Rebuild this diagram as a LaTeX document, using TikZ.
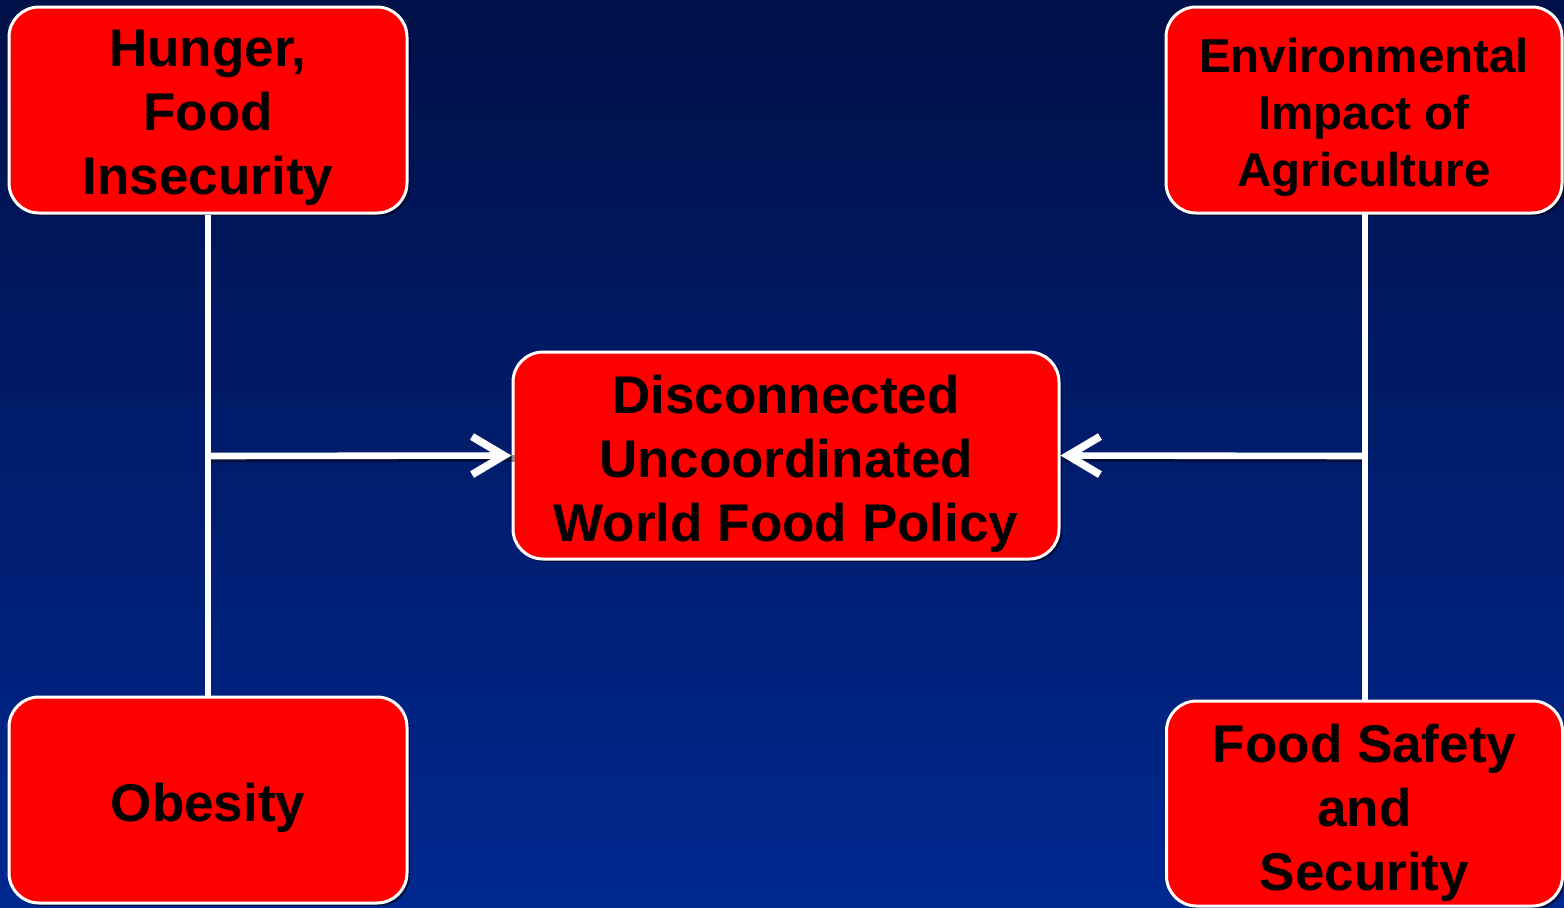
\documentclass[tikz,border=0pt]{standalone}
\usepackage{fontspec}
\setmainfont{Liberation Sans}
\usetikzlibrary{arrows.meta,shadows}
\definecolor{bgtop}{RGB}{0,16,72}
\definecolor{bgbot}{RGB}{0,40,144}
\definecolor{boxred}{RGB}{255,0,0}
\begin{document}
\begin{tikzpicture}[x=0.5pt,y=-0.5pt,
  box/.style={draw=white, line width=1.5pt, fill=boxred, rounded corners=15pt,
    inner sep=0pt,
    drop shadow={shadow xshift=1.5pt, shadow yshift=-1.5pt, opacity=0.5, fill=black}},
  txt/.style={inner sep=0pt, align=center, text=black,
    font=\bfseries\fontsize{26.5}{32}\selectfont},
  smalltxt/.style={txt, font=\bfseries\fontsize{23.75}{28.5}\selectfont},
  conn/.style={draw=white, line width=3.3pt},
  connshadow/.style={draw=black, opacity=0.45, line width=3.3pt},
  tipshape/.style={-{Straight Barb[length=16pt,width=19pt,line width=3.8pt]}},
  arr/.style={conn, tipshape}]
\shade[top color=bgtop, bottom color=bgbot] (0,0) rectangle (1564,907);
\useasboundingbox (0,0) rectangle (1564,907);

\node[box, minimum width=199pt, minimum height=103pt] (hunger) at (208,110) {};
\node[box, minimum width=199pt, minimum height=103pt] (obesity) at (208,800) {};
\node[box, minimum width=198pt, minimum height=103pt] (env) at (1364,110) {};
\node[box, minimum width=198pt, minimum height=102.5pt] (safety) at (1364.5,803.5) {};
\node[box, minimum width=273pt, minimum height=103.5pt] (center) at (786,455.5) {};

\node[txt] (hungerT) at ([yshift=-4pt]hunger.center) {Hunger,\\Food\\Insecurity};
\node[txt] (obesityT) at ([yshift=-4pt]obesity.center) {Obesity};
\node[smalltxt] (envT) at ([yshift=-3.5pt]env.center) {Environmental\\Impact of\\Agriculture};
\node[txt] (safetyT) at ([yshift=-4.5pt]safety.center) {Food Safety\\and\\Security};
\node[txt] (centerT) at ([yshift=-4pt]center.center) {Disconnected\\Uncoordinated\\World Food Policy};

\coordinate (jl) at (208,456);
\coordinate (jr) at (1365,456);
\coordinate (envb) at (1365,213);
\coordinate (safetyt) at (1365,701);
\begin{scope}[transform canvas={shift={(1.5pt,-1.5pt)}}]
  \draw[connshadow] (jl) -- (center.west);
  \draw[connshadow] (jr) -- (center.east);
\end{scope}
\draw[conn] (hunger.south) -- (obesity.north);
\draw[conn] (envb) -- (safetyt);
\draw[arr] (jl) -- (center.west);
\draw[arr] (jr) -- (center.east);
\end{tikzpicture}
\end{document}
